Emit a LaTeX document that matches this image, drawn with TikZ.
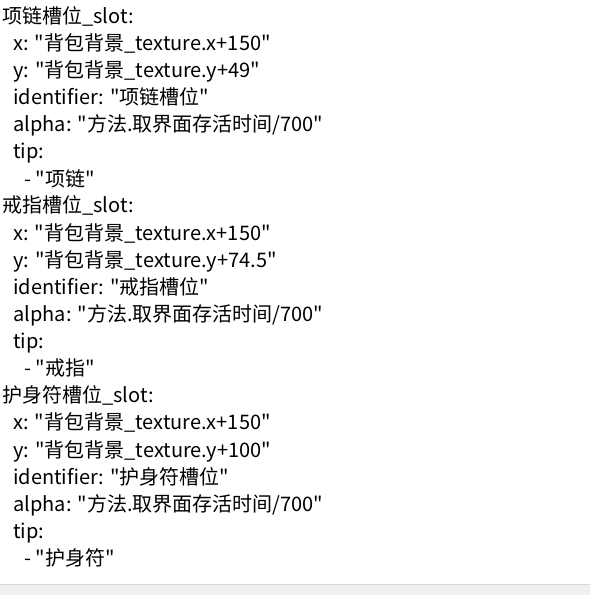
\documentclass[tikz,border=0pt]{standalone}
\usepackage{fontspec}
\setmainfont{Noto Sans CJK SC}[Ligatures=TeXOff]
\definecolor{barfill}{HTML}{F0F0F0}
\definecolor{barline}{HTML}{D9D9D9}
\begin{document}
\begin{tikzpicture}[x=0.75pt,y=-0.75pt,
		line/.style={anchor=base west,inner sep=0pt,font=\fontsize{15}{18}\selectfont}]
		\useasboundingbox (0,0) rectangle (590,595);
		% status bar at the bottom
		\fill[barfill] (0,584) rectangle (590,595);
		\draw[barline] (0,584) -- (590,584);
		% necklace slot
		\node[line] (necklace) at (2,24) {项链槽位\_slot:};
		\node[line] (necklacex) at (13,51) {x: "背包背景\_texture.x+150"};
		\node[line] (necklacey) at (13,78) {y: "背包背景\_texture.y+49"};
		\node[line] (necklaceid) at (13,105) {identifier: "项链槽位"};
		\node[line] (necklacealpha) at (13,132) {alpha: "方法.取界面存活时间/700"};
		\node[line] (necklacetip) at (13,159) {tip:};
		\node[line] (necklaceitem) at (24,186) {- "项链"};
		% ring slot
		\node[line] (ring) at (2,213) {戒指槽位\_slot:};
		\node[line] (ringx) at (13,240) {x: "背包背景\_texture.x+150"};
		\node[line] (ringy) at (13,267) {y: "背包背景\_texture.y+74.5"};
		\node[line] (ringid) at (13,294.5) {identifier: "戒指槽位"};
		\node[line] (ringalpha) at (13,321.5) {alpha: "方法.取界面存活时间/700"};
		\node[line] (ringtip) at (13,348.5) {tip:};
		\node[line] (ringitem) at (24,375.5) {- "戒指"};
		% amulet slot
		\node[line] (amulet) at (2,402.5) {护身符槽位\_slot:};
		\node[line] (amuletx) at (13,429.5) {x: "背包背景\_texture.x+150"};
		\node[line] (amulety) at (13,457) {y: "背包背景\_texture.y+100"};
		\node[line] (amuletid) at (13,484) {identifier: "护身符槽位"};
		\node[line] (amuletalpha) at (13,511) {alpha: "方法.取界面存活时间/700"};
		\node[line] (amulettip) at (13,538) {tip:};
		\node[line] (amuletitem) at (24,565) {- "护身符"};
	\end{tikzpicture}
\end{document}
